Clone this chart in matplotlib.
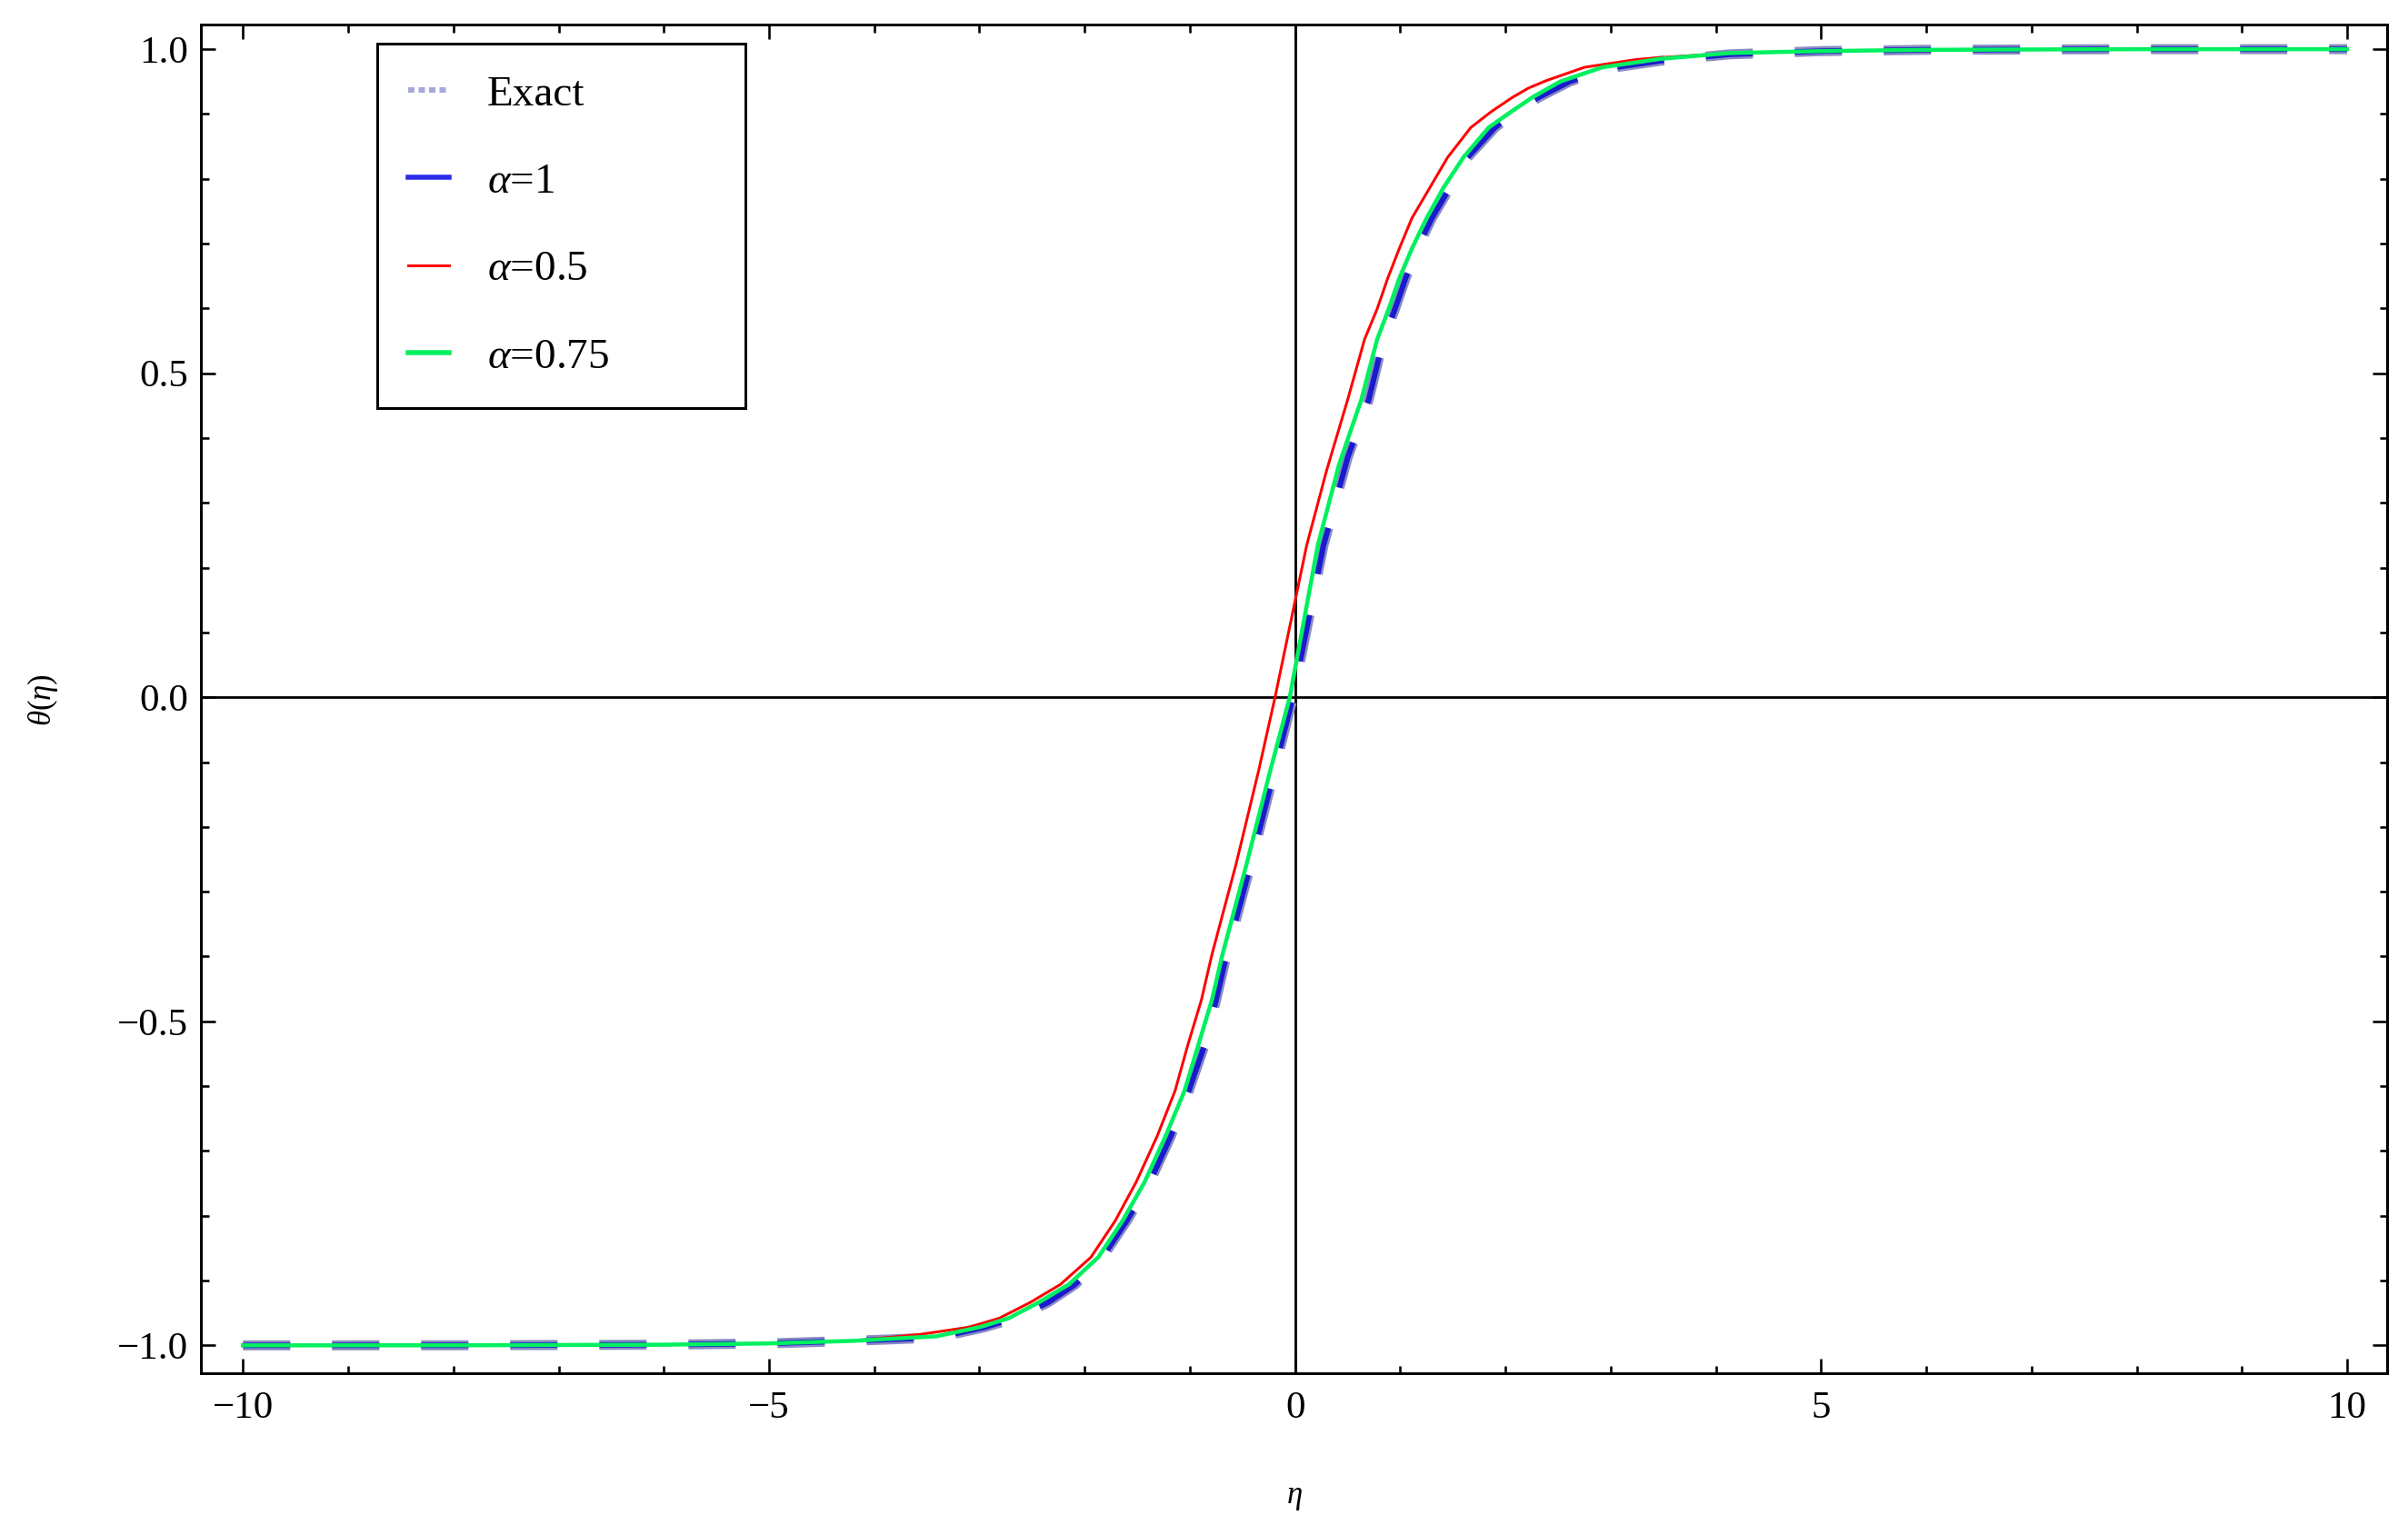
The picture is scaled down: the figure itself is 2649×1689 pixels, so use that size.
import matplotlib
matplotlib.use("Agg")
import matplotlib.pyplot as plt
from matplotlib.lines import Line2D
from matplotlib.ticker import MultipleLocator

plt.rcParams['font.family'] = ['Liberation Serif', 'DejaVu Serif']
plt.rcParams['mathtext.fontset'] = 'custom'
plt.rcParams['mathtext.rm'] = 'Liberation Serif'
plt.rcParams['mathtext.it'] = 'Liberation Serif:italic'
plt.rcParams['lines.scale_dashes'] = False

# ---- data ----
eta_a1 = [-10, -8, -6, -5, -4.2, -3.4, -2.95, -2.66, -2.35, -2.09, -1.83, -1.60, -1.38,
          -1.18, -1.01, -0.86, -0.75, -0.65, -0.42, -0.20, -0.02, 0.27, 0.50, 0.70,
          0.84, 0.95, 1.05, 1.16, 1.30, 1.47, 1.64, 1.90, 2.09, 2.32, 2.61, 2.81, 3.0,
          3.47, 4.13, 5, 6, 8, 10]
theta_a1 = [-1.0, -0.9999, -0.999, -0.997, -0.993, -0.988, -0.972, -0.958, -0.934,
            -0.906, -0.864, -0.808, -0.748, -0.677, -0.607, -0.537, -0.467, -0.397,
            -0.257, -0.116, 0.0, 0.234, 0.37, 0.459, 0.552, 0.599, 0.646, 0.692, 0.739,
            0.786, 0.833, 0.879, 0.903, 0.926, 0.950, 0.961, 0.971, 0.982, 0.992, 0.997,
            0.999, 1.0, 1.0]

eta_exact = eta_a1
theta_exact = theta_a1

eta_a05 = [-10, -8, -6, -5, -4.2, -3.56, -3.1, -2.81, -2.52, -2.23, -1.94, -1.71, -1.51,
           -1.31, -1.14, -1.02, -0.89, -0.79, -0.56, -0.35, -0.19, 0.11, 0.30, 0.50,
           0.66, 0.78, 0.88, 0.99, 1.11, 1.28, 1.45, 1.67, 1.86, 2.07, 2.22, 2.38, 2.75,
           3.24, 3.47, 4.13, 5, 6, 8, 10]
theta_a05 = [-1.0, -0.9999, -0.999, -0.997, -0.993, -0.983, -0.972, -0.958, -0.934,
             -0.906, -0.864, -0.808, -0.748, -0.677, -0.607, -0.537, -0.467, -0.397,
             -0.257, -0.116, 0.0, 0.234, 0.35, 0.459, 0.552, 0.599, 0.646, 0.692, 0.739,
             0.786, 0.833, 0.879, 0.903, 0.926, 0.940, 0.951, 0.972, 0.984, 0.987,
             0.994, 0.997, 0.999, 1.0, 1.0]

eta_a075 = [-10, -8, -6, -5, -4.2, -3.41, -3.0, -2.72, -2.44, -2.15, -1.87, -1.64, -1.43,
            -1.23, -1.05, -0.92, -0.79, -0.69, -0.46, -0.24, -0.05, 0.216, 0.42, 0.63,
            0.78, 0.89, 0.99, 1.11, 1.25, 1.41, 1.60, 1.84, 2.05, 2.26, 2.52, 2.81, 2.92,
            3.47, 4.13, 5, 6, 8, 10]
theta_a075 = [-1.0, -0.9999, -0.999, -0.997, -0.993, -0.986, -0.972, -0.958, -0.934,
              -0.906, -0.864, -0.808, -0.748, -0.677, -0.607, -0.537, -0.467, -0.397,
              -0.257, -0.116, 0.0, 0.234, 0.36, 0.459, 0.552, 0.599, 0.646, 0.692, 0.739,
              0.786, 0.833, 0.879, 0.903, 0.926, 0.950, 0.966, 0.972, 0.985, 0.994,
              0.997, 0.999, 1.0, 1.0]

labels = ['Exact', r'$\alpha$=1', r'$\alpha$=0.5', r'$\alpha$=0.75']
x_major = [-10, -5, 0, 5, 10]
y_major = [-1.0, -0.5, 0.0, 0.5, 1.0]

W, H = 2649, 1689
fig = plt.figure(figsize=(W / 100, H / 100), dpi=100)
ax = fig.add_axes([221 / W, 1 - 1511 / H, 2405 / W, 1484 / H])

px = 0.72  # points per pixel at dpi 100

c_exact = '#8a8ac4'
c_a1 = '#0000d0'
c_red = '#ff0000'
c_green = '#00f060'

ax.plot(eta_exact, theta_exact, color=c_exact, lw=11 * px, dashes=(52 * px, 46 * px),
        dash_capstyle='butt', zorder=3)
ax.plot(eta_a1, theta_a1, color=c_a1, lw=6 * px, dashes=(52 * px, 46 * px),
        dash_capstyle='butt', alpha=0.8, zorder=4)
ax.plot(eta_a05, theta_a05, color=c_red, lw=3 * px, zorder=5)
ax.plot(eta_a075, theta_a075, color=c_green, lw=4.5 * px, zorder=6)

ax.axhline(0, color='black', lw=2.8 * px, zorder=2)
ax.axvline(0, color='black', lw=2.8 * px, zorder=2)

ax.set_xlim(-10.4, 10.38)
ax.set_ylim(-1.043, 1.038)
ax.set_xticks(x_major)
ax.set_yticks(y_major)
ax.set_xticklabels(['\u221210', '\u22125', '0', '5', '10'])
ax.set_yticklabels(['\u22121.0', '\u22120.5', '0.0', '0.5', '1.0'])
ax.xaxis.set_minor_locator(MultipleLocator(1))
ax.yaxis.set_minor_locator(MultipleLocator(0.1))
ax.tick_params(which='both', direction='in', top=True, right=True, width=2.6 * px)
ax.tick_params(which='major', length=16 * px, labelsize=31)
ax.tick_params(which='minor', length=8.5 * px)
ax.tick_params(axis='x', pad=20 * px)
ax.tick_params(axis='y', pad=14 * px)
for s in ax.spines.values():
    s.set_linewidth(3 * px)

ax.set_xlabel(r'$\eta$', fontsize=25)
ax.set_ylabel(r'$\theta(\eta)$', fontsize=25)
ax.xaxis.label.set_va('center')
ax.yaxis.label.set_va('center')
ax.xaxis.set_label_coords(0.5, -(1647 - 1511) / 1484)
ax.yaxis.set_label_coords(-(221 - 47) / 2405, 0.499)

handles = [
    Line2D([], [], color='#a8a8d8', lw=6 * px, dashes=(7 * px, 4.5 * px)),
    Line2D([], [], color='#2a2ae8', lw=5.5 * px),
    Line2D([], [], color=c_red, lw=3 * px),
    Line2D([], [], color=c_green, lw=5.5 * px),
]
lx0 = (415 - 221) / 2405
lx1 = (820 - 221) / 2405
ly1 = (1511 - 48) / 1484
leg = ax.legend(handles, labels, loc='upper left',
                bbox_to_anchor=(lx0, ly1 - 0.3, lx1 - lx0, 0.3), mode='expand',
                fontsize=34, frameon=True, fancybox=False, shadow=False,
                borderpad=0.73, labelspacing=1.13, handlelength=0.95,
                handletextpad=0.88, borderaxespad=0.0)
leg.get_frame().set_edgecolor('black')
leg.get_frame().set_linewidth(3 * px)
leg.get_frame().set_alpha(1)
leg.set_zorder(10)

fig.savefig('out.png', dpi=100, facecolor='white')
